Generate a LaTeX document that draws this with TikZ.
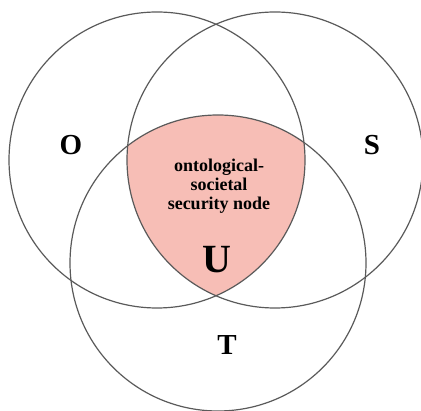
\documentclass[tikz,border=0pt]{standalone}
\usepackage{fontspec}
\setmainfont{Liberation Serif}
\usetikzlibrary{positioning}
\definecolor{nodepink}{RGB}{247,190,182}
\definecolor{ringgray}{RGB}{90,90,90}

\begin{document}
\begin{tikzpicture}
[
x=1pt,y=1pt,
ring/.style={draw=ringgray,circle,line width=1.2pt,minimum size=296pt,inner sep=0pt},
setlab/.style={font=\bfseries\fontsize{29}{29}\selectfont},
]
\useasboundingbox (0,0) rectangle (421,-411);

%Fill the common part
\begin{scope}
\clip (157,-160) circle (148);
\clip (275,-160) circle (148);
\fill[nodepink] (218,-263) circle (148);
\end{scope}

%Place the circles
\node[ring] (o) at (157,-160) {};
\node[ring] (s) at (275,-160) {};
\node[ring] (t) at (218,-263) {};

%Place the labels
\node[setlab] (olab) at (71,-145) {O};
\node[setlab] (slab) at (372,-145) {S};
\node[setlab] (tlab) at (227,-345) {T};
\node[font=\bfseries\fontsize{40}{40}\selectfont] (ulab) at (217,-260) {U};
\node[font=\bfseries\fontsize{18}{19}\selectfont,align=center] (desc) at (219,-186)
  {ontological-\\societal\\security node};
\end{tikzpicture}
\end{document}
